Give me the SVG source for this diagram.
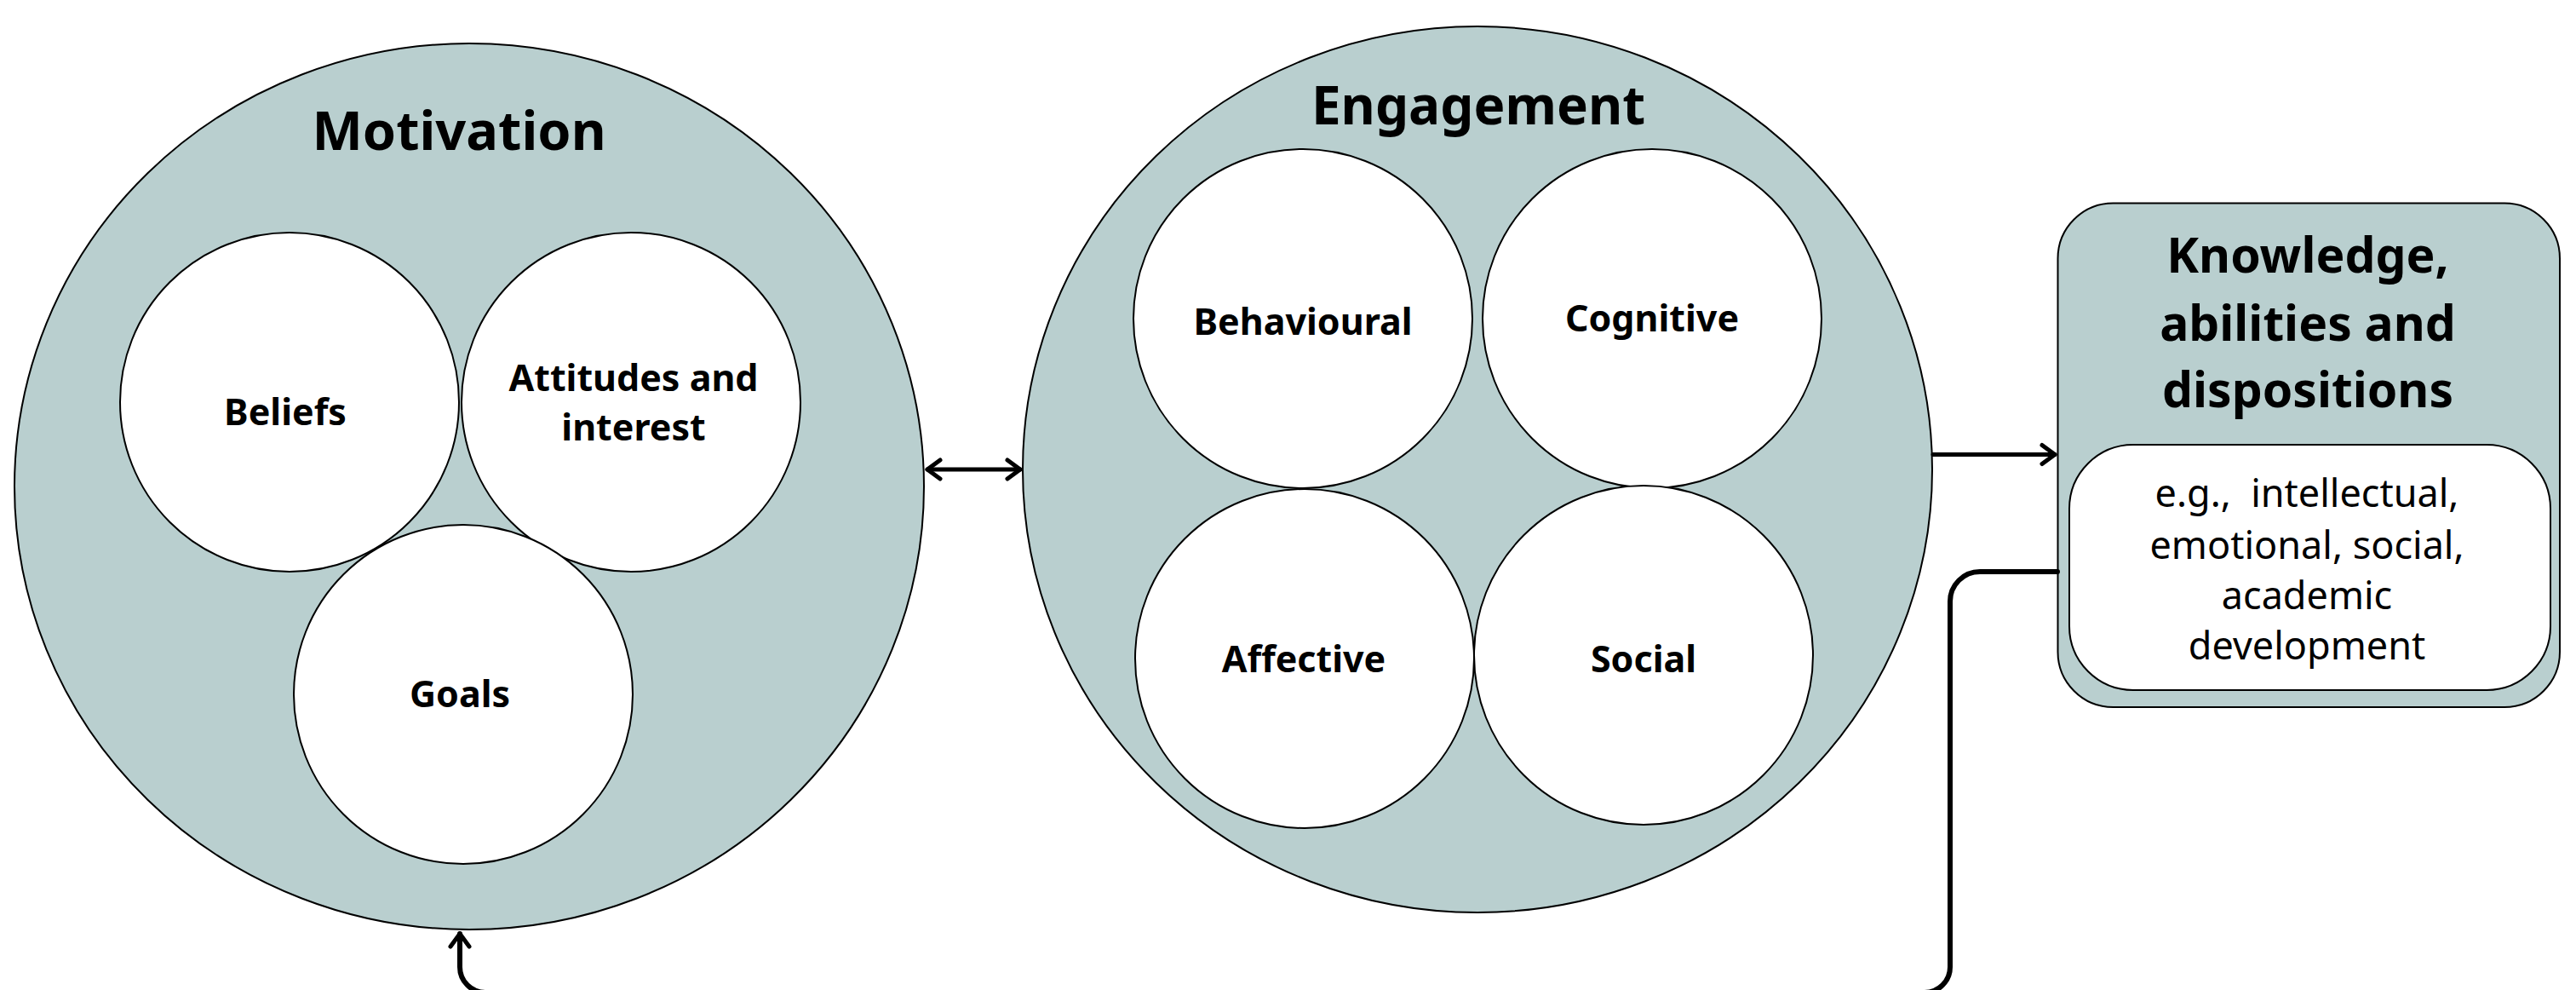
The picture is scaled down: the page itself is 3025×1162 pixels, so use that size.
<svg xmlns="http://www.w3.org/2000/svg" width="3025" height="1162" viewBox="0 0 3025 1162">
<style>
.outer{fill:#B9CFCF;stroke:#000;stroke-width:2}
.inner{fill:#FFFFFF;stroke:#000;stroke-width:2}
.title{font-family:"Noto Sans",sans-serif;font-weight:700;fill:#000;text-anchor:middle}
.lbl{font-family:"Noto Sans",sans-serif;font-weight:700;font-size:43px;fill:#000;text-anchor:middle}
.reg{font-family:"Noto Sans",sans-serif;font-weight:400;font-size:45px;fill:#000;text-anchor:middle;white-space:pre}
.conn{fill:none;stroke:#000;stroke-width:5;stroke-linecap:round;stroke-linejoin:round}
.thick{stroke-width:6}
</style>
<defs>
<marker id="head" markerUnits="userSpaceOnUse" viewBox="-20 -15 24 30" refX="0" refY="0" markerWidth="24" markerHeight="30" orient="auto-start-reverse">
<path d="M-15,-11 L0,0 L-15,11" fill="none" stroke="#000" stroke-width="5" stroke-linecap="round" stroke-linejoin="round"/>
</marker>
</defs>
<rect width="3025" height="1162" fill="#FFFFFF"/>
<g id="motivation">
<ellipse class="outer" cx="551" cy="571" rx="534" ry="520"/>
<text class="title" x="539" y="176" font-size="63">Motivation</text>
</g>
<g id="beliefs">
<circle class="inner" cx="340" cy="472" r="199"/>
<text class="lbl" x="335" y="499">Beliefs</text>
</g>
<g id="attitudes">
<circle class="inner" cx="741" cy="472" r="199"/>
<text class="lbl" x="744" y="459">Attitudes and</text>
<text class="lbl" x="744" y="517">interest</text>
</g>
<g id="goals">
<circle class="inner" cx="544" cy="815" r="199"/>
<text class="lbl" x="540" y="830">Goals</text>
</g>
<g id="engagement">
<ellipse class="outer" cx="1735" cy="551" rx="534" ry="520"/>
<text class="title" x="1736" y="146" font-size="62">Engagement</text>
</g>
<g id="behavioural">
<circle class="inner" cx="1530" cy="374" r="199"/>
<text class="lbl" x="1530" y="393">Behavioural</text>
</g>
<g id="cognitive">
<circle class="inner" cx="1940" cy="374" r="199"/>
<text class="lbl" x="1940" y="389">Cognitive</text>
</g>
<g id="affective">
<circle class="inner" cx="1532" cy="773" r="199"/>
<text class="lbl" x="1531" y="789">Affective</text>
</g>
<g id="social">
<circle class="inner" cx="1930" cy="769" r="199"/>
<text class="lbl" x="1930" y="789">Social</text>
</g>
<g id="knowledge">
<rect class="outer" x="2416.5" y="238.5" width="589.5" height="591.5" rx="65" ry="65"/>
<text class="title" x="2710" y="320" font-size="57">Knowledge,</text>
<text class="title" x="2710" y="400" font-size="57">abilities and</text>
<text class="title" x="2710" y="478" font-size="57">dispositions</text>
<rect class="inner" x="2430" y="522" width="565" height="288" rx="75" ry="75"/>
<text class="reg" x="2709" y="595">e.g.,  intellectual,</text>
<text class="reg" x="2709" y="656">emotional, social,</text>
<text class="reg" x="2709" y="715">academic</text>
<text class="reg" x="2709" y="774">development</text>
</g>
<g id="connectors">
<path class="conn" d="M1089,551 H1198" marker-start="url(#head)" marker-end="url(#head)"/>
<path class="conn" d="M2270,533.5 H2413" marker-end="url(#head)"/>
<path class="conn thick" d="M2416,671 H2325 A35,35 0 0 0 2290,706 V1135 A30,30 0 0 1 2260,1165 H570 A30,30 0 0 1 540,1135 V1096" marker-end="url(#head)"/>
</g>
</svg>
